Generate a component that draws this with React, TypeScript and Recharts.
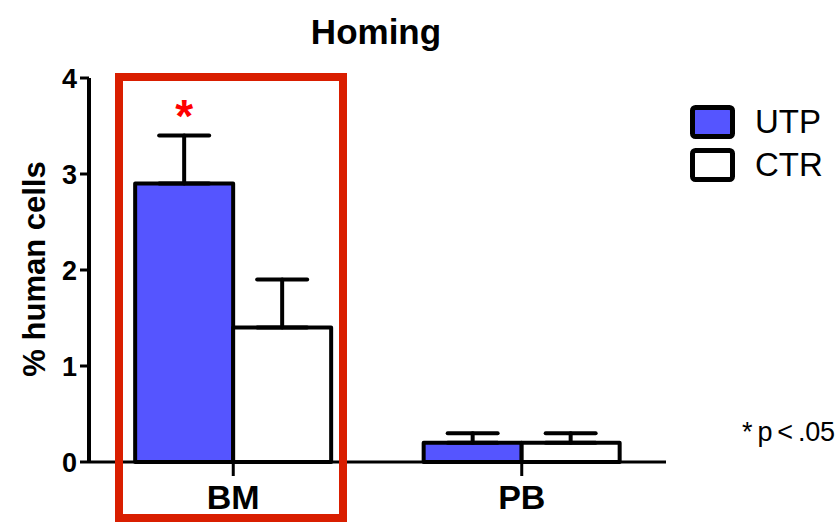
import React from 'react';
import { BarChart, Bar, XAxis, YAxis, ErrorBar, LabelList } from 'recharts';

const categories = ['BM', 'PB'];
const utpValues = [2.9, 0.2];
const utpErrors = [0.5, 0.1];
const ctrValues = [1.4, 0.2];
const ctrErrors = [0.5, 0.1];
const significant = [true, false];
const yTicks = [0, 1, 2, 3, 4];
const legendLabels = ['UTP', 'CTR'];

const data = categories.map((c, i) => ({
  name: c,
  UTP: utpValues[i],
  utpErr: [0, utpErrors[i]],
  CTR: ctrValues[i],
  ctrErr: [0, ctrErrors[i]],
  sig: significant[i],
}));

const FONT = 'Arial, "Liberation Sans", Helvetica, sans-serif';
const BLUE = '#5555ff';
const RED = '#d91e00';
const legendFills = [BLUE, '#ffffff'];

const StarLabel = (props: any) => {
  const { x, y, width, height, index, value } = props;
  if (!data[index] || !data[index].sig) return null;
  const perUnit = height / value;
  const errTop = y + height - (utpValues[index] + utpErrors[index]) * perUnit;
  return (
    <text
      x={x + width / 2}
      y={errTop - 4}
      textAnchor="middle"
      fill="#ff0000"
      fontFamily={FONT}
      fontWeight="bold"
      fontSize={46}
    >
      *
    </text>
  );
};

const YLabel = () => (
  <text
    x={45}
    y={269}
    transform="rotate(-90 45 269)"
    textAnchor="middle"
    fontFamily={FONT}
    fontWeight="bold"
    fontSize={31}
    fill="#000"
  >
    % human cells
  </text>
);

export default function App() {
  return (
    <div style={{ position: 'absolute', left: 0, top: 0, width: 838, height: 523, background: '#fff', overflow: 'hidden' }}>
      <div
        style={{
          position: 'absolute',
          left: 0,
          width: 752,
          top: 12,
          textAlign: 'center',
          fontFamily: FONT,
          fontWeight: 'bold',
          fontSize: 35,
          color: '#000',
        }}
      >
        Homing
      </div>
      <BarChart
        width={838}
        height={523}
        data={data}
        margin={{ top: 78, right: 172, bottom: 0, left: 0 }}
        barCategoryGap="16%"
        barGap={0}
      >
        <XAxis
          dataKey="name"
          axisLine={{ stroke: '#000', strokeWidth: 3 }}
          tickLine={{ stroke: '#000', strokeWidth: 3 }}
          tickSize={14}
          tickMargin={9}
          height={61}
          tick={{ fill: '#000', fontFamily: FONT, fontWeight: 'bold', fontSize: 34 }}
        />
        <YAxis
          domain={[0, 4]}
          ticks={yTicks}
          width={89}
          axisLine={{ stroke: '#000', strokeWidth: 4 }}
          tickLine={{ stroke: '#000', strokeWidth: 3 }}
          tickSize={9}
          tickMargin={3}
          tick={{ fill: '#000', fontFamily: FONT, fontWeight: 'bold', fontSize: 27 }}
          label={<YLabel />}
        />
        <Bar dataKey="UTP" fill={BLUE} stroke="#000" strokeWidth={4} strokeLinejoin="round" isAnimationActive={false}>
          <ErrorBar dataKey="utpErr" width={25} stroke="#000" strokeWidth={4} strokeLinecap="round" direction="y" />
          <LabelList dataKey="UTP" content={<StarLabel />} />
        </Bar>
        <Bar dataKey="CTR" fill="#ffffff" stroke="#000" strokeWidth={4} strokeLinejoin="round" isAnimationActive={false}>
          <ErrorBar dataKey="ctrErr" width={25} stroke="#000" strokeWidth={4} strokeLinecap="round" direction="y" />
        </Bar>
      </BarChart>
      <div style={{ position: 'absolute', left: 688, top: 100, width: 150 }}>
        {legendLabels.map((label, i) => (
          <div key={label} style={{ display: 'flex', alignItems: 'center', height: 43 }}>
            <svg width={50} height={36} style={{ display: 'block' }}>
              <rect x={4.5} y={3.5} width={40} height={29} rx={3} fill={legendFills[i]} stroke="#000" strokeWidth={5} />
            </svg>
            <span style={{ fontFamily: FONT, fontSize: 33, color: '#000', marginLeft: 17, lineHeight: '36px' }}>
              {label}
            </span>
          </div>
        ))}
      </div>
      <div
        style={{
          position: 'absolute',
          left: 115,
          top: 73,
          width: 232,
          height: 449,
          boxSizing: 'border-box',
          border: `8px solid ${RED}`,
          pointerEvents: 'none',
        }}
      />
      <div
        style={{
          position: 'absolute',
          left: 742,
          top: 417,
          fontFamily: FONT,
          fontSize: 27,
          letterSpacing: -0.3,
          wordSpacing: -2,
          color: '#000',
          whiteSpace: 'nowrap',
        }}
      >
        * p &lt; .05
      </div>
    </div>
  );
}
